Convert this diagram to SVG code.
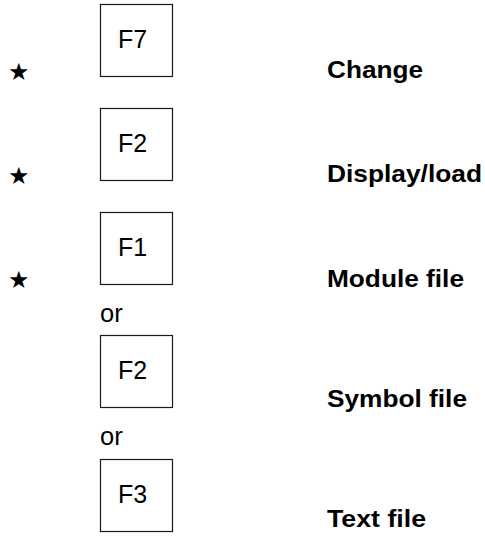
<svg xmlns="http://www.w3.org/2000/svg" width="485" height="537" viewBox="0 0 485 537">
<style>
.key{fill:#fff;stroke:#1a1a1a;stroke-width:1.2}
.kt{font-family:"Liberation Sans",Arial,sans-serif;font-size:25px;fill:#000}
.or{font-family:"Liberation Sans",Arial,sans-serif;font-size:25.5px;fill:#000}
.lb{font-family:"Liberation Sans",Arial,sans-serif;font-size:24px;font-weight:bold;fill:#000}
.st{font-family:"DejaVu Sans",sans-serif;font-size:24px;fill:#000}
</style>
<rect width="485" height="537" fill="#fff"/>
<g id="step1">
<rect class="key" x="100.5" y="4.5" width="72" height="72"/>
<text class="kt" x="118" y="48">F7</text>
<text class="st" x="8" y="80">★</text>
<text class="lb" x="327" y="78" textLength="96" lengthAdjust="spacingAndGlyphs">Change</text>
</g>
<g id="step2">
<rect class="key" x="100.5" y="108.5" width="72" height="72"/>
<text class="kt" x="118" y="152">F2</text>
<text class="st" x="8" y="184">★</text>
<text class="lb" x="327" y="182" textLength="155" lengthAdjust="spacingAndGlyphs">Display/load</text>
</g>
<g id="step3">
<rect class="key" x="100.5" y="212.5" width="72" height="72"/>
<text class="kt" x="118" y="256">F1</text>
<text class="st" x="8" y="288">★</text>
<text class="lb" x="327" y="287" textLength="137" lengthAdjust="spacingAndGlyphs">Module file</text>
</g>
<text class="or" x="100" y="322">or</text>
<g id="step4">
<rect class="key" x="100.5" y="335.5" width="72" height="72"/>
<text class="kt" x="118" y="379">F2</text>
<text class="lb" x="327" y="407" textLength="140" lengthAdjust="spacingAndGlyphs">Symbol file</text>
</g>
<text class="or" x="100" y="445">or</text>
<g id="step5">
<rect class="key" x="100.5" y="459.5" width="72" height="72"/>
<text class="kt" x="118" y="503">F3</text>
<text class="lb" x="327" y="527" textLength="99" lengthAdjust="spacingAndGlyphs">Text file</text>
</g>
<g id="connectors"/>
</svg>
